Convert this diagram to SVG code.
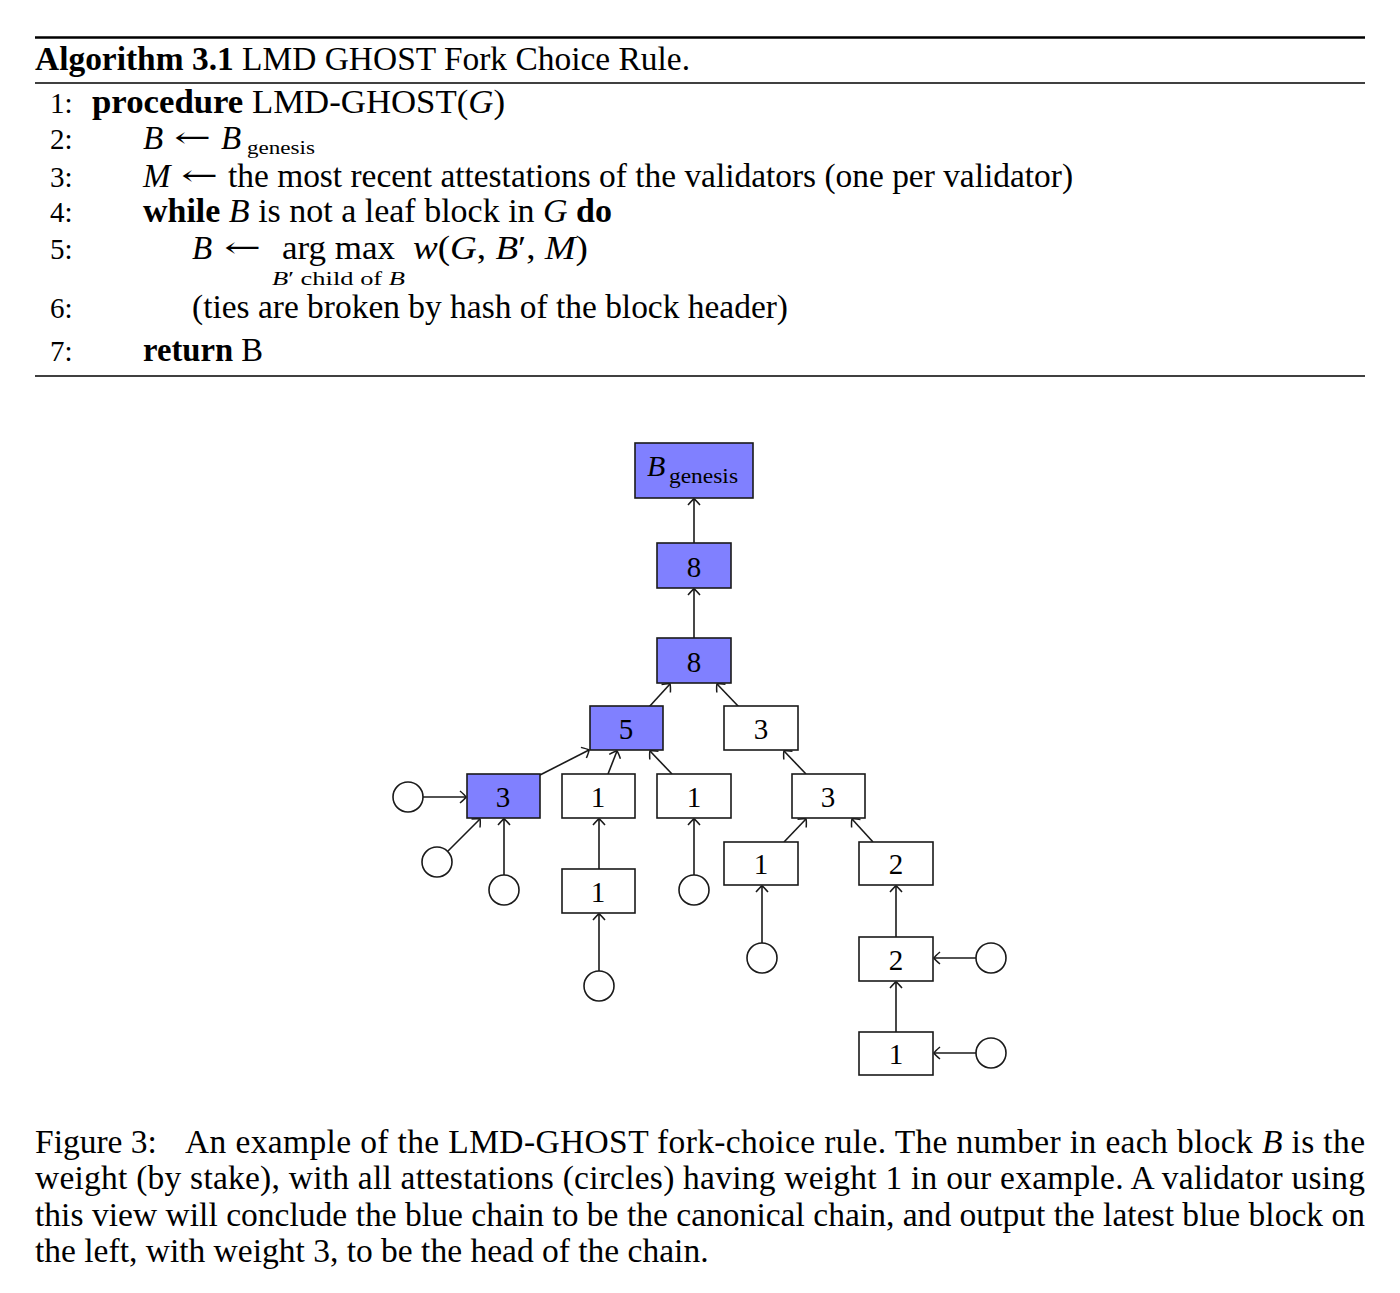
<svg xmlns="http://www.w3.org/2000/svg" width="1400" height="1293" viewBox="0 0 1400 1293">
<style>
text{font-family:"Liberation Serif","Times New Roman",serif;fill:#000}
.alg{font-size:33px}
.ln{font-size:29px}
.b{font-weight:bold}
.i{font-style:italic}
.ar{font-family:"DejaVu Serif",serif;font-size:28px}
.sub{font-size:19px}
.box{stroke:#1a1a1a;stroke-width:1.6;fill:#fff}
.blue{fill:#8080ff}
.num{font-size:29px;text-anchor:middle}
.att{fill:#fff;stroke:#1a1a1a;stroke-width:1.6}
.edge{stroke:#1a1a1a;stroke-width:1.6;fill:none;marker-end:url(#to)}
.cap{font-size:33.5px}
</style>
<defs>
<marker id="to" markerUnits="userSpaceOnUse" viewBox="-8 -8 9 16" refX="0" refY="0" markerWidth="9" markerHeight="16" orient="auto" overflow="visible">
<path d="M-6,-6 Q-1.2,-2 0,0 Q-1.2,2 -6,6" fill="none" stroke="#1a1a1a" stroke-width="1.5"/>
</marker>
</defs>
<rect width="1400" height="1293" fill="#fff"/>

<g id="algorithm">
<line x1="35" y1="37.5" x2="1365" y2="37.5" stroke="#000" stroke-width="2.5"/>
<line x1="35" y1="83" x2="1365" y2="83" stroke="#000" stroke-width="1.5"/>
<line x1="35" y1="376" x2="1365" y2="376" stroke="#000" stroke-width="1.5"/>
<text class="alg" x="35" y="70" textLength="655" lengthAdjust="spacingAndGlyphs"><tspan class="b">Algorithm 3.1</tspan> LMD GHOST Fork Choice Rule.</text>
<text class="ln" x="50" y="113">1:</text>
<text class="alg" x="92" y="113" textLength="413" lengthAdjust="spacingAndGlyphs"><tspan class="b">procedure</tspan> LMD-GHOST(<tspan class="i">G</tspan>)</text>
<text class="ln" x="50" y="149">2:</text>
<text class="alg i" x="143" y="149">B</text>
<text class="ar" x="174" y="147" textLength="37" lengthAdjust="spacingAndGlyphs">←</text>
<text class="alg i" x="221" y="149">B</text>
<text class="sub" x="247" y="154" font-size="20" textLength="68" lengthAdjust="spacingAndGlyphs">genesis</text>
<text class="ln" x="50" y="187">3:</text>
<text class="alg i" x="143" y="187">M</text>
<text class="ar" x="181" y="185" textLength="37" lengthAdjust="spacingAndGlyphs">←</text>
<text class="alg" x="228" y="187" textLength="845" lengthAdjust="spacingAndGlyphs">the most recent attestations of the validators (one per validator)</text>
<text class="ln" x="50" y="222">4:</text>
<text class="alg" x="143" y="222" textLength="469" lengthAdjust="spacingAndGlyphs"><tspan class="b">while</tspan> <tspan class="i">B</tspan> is not a leaf block in <tspan class="i">G</tspan> <tspan class="b">do</tspan></text>
<text class="ln" x="50" y="259">5:</text>
<text class="alg i" x="192" y="259">B</text>
<text class="ar" x="224" y="257" textLength="37" lengthAdjust="spacingAndGlyphs">←</text>
<text class="alg" x="282" y="259" textLength="113" lengthAdjust="spacingAndGlyphs">arg max</text>
<text class="alg" x="413" y="259" textLength="175" lengthAdjust="spacingAndGlyphs"><tspan class="i">w</tspan>(<tspan class="i">G</tspan>, <tspan class="i">B</tspan>′, <tspan class="i">M</tspan>)</text>
<text class="sub" x="272" y="285" textLength="133" lengthAdjust="spacingAndGlyphs"><tspan class="i">B</tspan>′ child of <tspan class="i">B</tspan></text>
<text class="ln" x="50" y="318">6:</text>
<text class="alg" x="192" y="318" textLength="596" lengthAdjust="spacingAndGlyphs">(ties are broken by hash of the block header)</text>
<text class="ln" x="50" y="361">7:</text>
<text class="alg" x="143" y="361" textLength="120" lengthAdjust="spacingAndGlyphs"><tspan class="b">return</tspan> B</text>
</g>

<g id="connectors">
<line class="edge" x1="694" y1="543" x2="694" y2="499"/>
<line class="edge" x1="694" y1="638" x2="694" y2="589"/>
<line class="edge" x1="649" y1="707" x2="670" y2="684"/>
<line class="edge" x1="739" y1="707" x2="717" y2="684"/>
<line class="edge" x1="540" y1="775" x2="589" y2="750"/>
<line class="edge" x1="608" y1="774" x2="617" y2="751"/>
<line class="edge" x1="672" y1="774" x2="650" y2="751"/>
<line class="edge" x1="423" y1="797" x2="466" y2="797"/>
<line class="edge" x1="448" y1="851" x2="480" y2="819"/>
<line class="edge" x1="504" y1="875" x2="504" y2="819"/>
<line class="edge" x1="599" y1="869" x2="599" y2="819"/>
<line class="edge" x1="599" y1="971" x2="599" y2="914"/>
<line class="edge" x1="694" y1="875" x2="694" y2="819"/>
<line class="edge" x1="806" y1="774" x2="784" y2="751"/>
<line class="edge" x1="784" y1="842" x2="806" y2="819"/>
<line class="edge" x1="873" y1="842" x2="852" y2="819"/>
<line class="edge" x1="762" y1="943" x2="762" y2="886"/>
<line class="edge" x1="896" y1="937" x2="896" y2="886"/>
<line class="edge" x1="976" y1="958" x2="934" y2="958"/>
<line class="edge" x1="896" y1="1032" x2="896" y2="982"/>
<line class="edge" x1="976" y1="1053" x2="934" y2="1053"/>
</g>

<g id="n-genesis"><rect class="box blue" x="635" y="443" width="118" height="55"/><text x="647" y="476" font-size="30" class="i">B</text><text x="669" y="483" font-size="22" textLength="69" lengthAdjust="spacingAndGlyphs">genesis</text></g>
<g id="n-8a"><rect class="box blue" x="657" y="543" width="74" height="45"/><text class="num" x="694" y="577">8</text></g>
<g id="n-8b"><rect class="box blue" x="657" y="638" width="74" height="45"/><text class="num" x="694" y="672">8</text></g>
<g id="n-5"><rect class="box blue" x="590" y="706" width="73" height="44"/><text class="num" x="626" y="739">5</text></g>
<g id="n-3r1"><rect class="box" x="724" y="706" width="74" height="44"/><text class="num" x="761" y="739">3</text></g>
<g id="n-3b"><rect class="box blue" x="467" y="774" width="73" height="44"/><text class="num" x="503" y="807">3</text></g>
<g id="n-1a"><rect class="box" x="562" y="774" width="73" height="44"/><text class="num" x="598" y="807">1</text></g>
<g id="n-1b"><rect class="box" x="657" y="774" width="74" height="44"/><text class="num" x="694" y="807">1</text></g>
<g id="n-3r2"><rect class="box" x="792" y="774" width="73" height="44"/><text class="num" x="828" y="807">3</text></g>
<g id="n-1c"><rect class="box" x="562" y="869" width="73" height="44"/><text class="num" x="598" y="902">1</text></g>
<g id="n-1d"><rect class="box" x="724" y="842" width="74" height="43"/><text class="num" x="761" y="874">1</text></g>
<g id="n-2a"><rect class="box" x="859" y="842" width="74" height="43"/><text class="num" x="896" y="874">2</text></g>
<g id="n-2b"><rect class="box" x="859" y="937" width="74" height="44"/><text class="num" x="896" y="970">2</text></g>
<g id="n-1e"><rect class="box" x="859" y="1032" width="74" height="43"/><text class="num" x="896" y="1064">1</text></g>

<g id="attestations">
<circle class="att" cx="408" cy="797" r="15"/>
<circle class="att" cx="437" cy="862" r="15"/>
<circle class="att" cx="504" cy="890" r="15"/>
<circle class="att" cx="599" cy="986" r="15"/>
<circle class="att" cx="694" cy="890" r="15"/>
<circle class="att" cx="762" cy="958" r="15"/>
<circle class="att" cx="991" cy="958" r="15"/>
<circle class="att" cx="991" cy="1053" r="15"/>
</g>

<g id="caption">
<text class="cap" x="35" y="1153">Figure 3:</text>
<text class="cap" x="185" y="1153" textLength="1180" lengthAdjust="spacing">An example of the LMD-GHOST fork-choice rule. The number in each block <tspan class="i">B</tspan> is the</text>
<text class="cap" x="35" y="1189" textLength="1330" lengthAdjust="spacing">weight (by stake), with all attestations (circles) having weight 1 in our example. A validator using</text>
<text class="cap" x="35" y="1226" textLength="1330" lengthAdjust="spacing">this view will conclude the blue chain to be the canonical chain, and output the latest blue block on</text>
<text class="cap" x="35" y="1262">the left, with weight 3, to be the head of the chain.</text>
</g>
</svg>
